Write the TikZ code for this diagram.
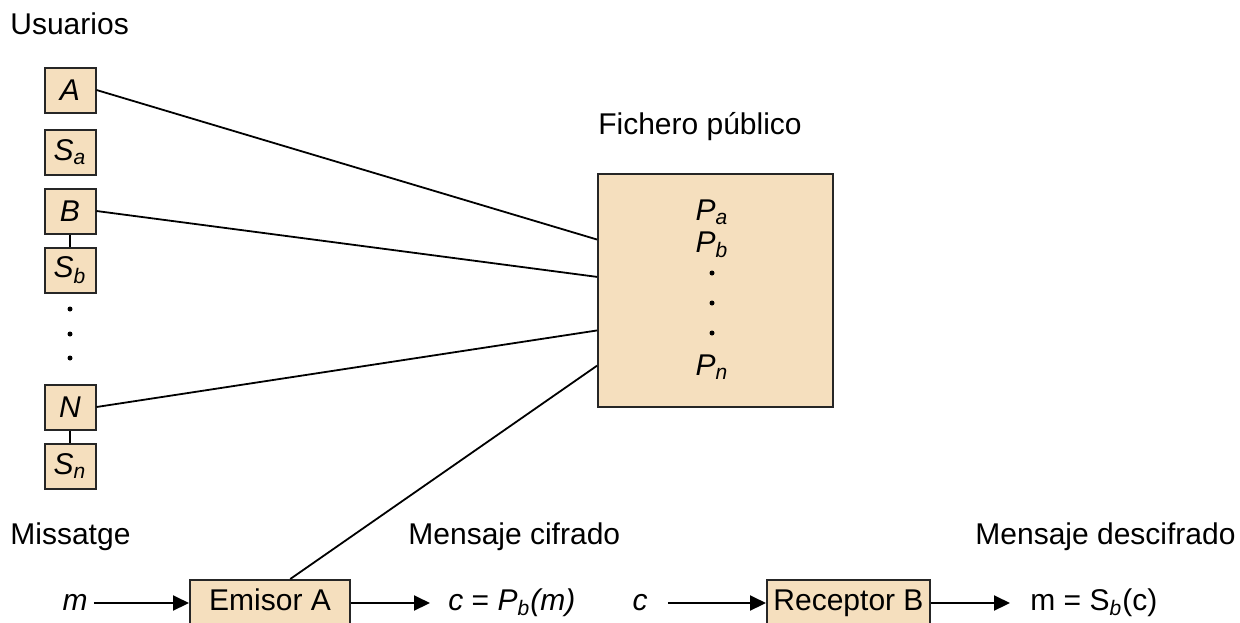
\documentclass[tikz,border=0pt]{standalone}
\usepackage{fontspec}
\setmainfont{Liberation Sans}
\usetikzlibrary{positioning,arrows.meta,calc}
\definecolor{caja}{RGB}{245,223,190}

\tikzset{
  usuario/.style={draw=black!85, fill=caja, line width=1pt, minimum width=25.5pt,
    minimum height=22.5pt, inner sep=0pt, font=\fontsize{15}{17}\selectfont\itshape},
  rotulo/.style={font=\fontsize{15}{18}\selectfont, inner sep=0pt},
  dato/.style={font=\fontsize{15}{18}\selectfont, inner sep=1pt, text height=10.5pt, text depth=3pt},
  bloque/.style={draw=black!85, fill=caja, line width=1pt, minimum height=23pt, inner sep=2pt,
    font=\fontsize{15}{18}\selectfont, text height=10.5pt, text depth=3pt},
  flecha/.style={line width=1pt, -{Triangle[length=8pt,width=7.5pt]}},
  enlace/.style={line width=0.9pt},
}

\begin{document}
\begin{tikzpicture}[x=0.5pt,y=-0.5pt]
\useasboundingbox (0,0) rectangle (1240,622);

% usuarios
\node[rotulo, anchor=west] (tusuarios) at (10,24) {Usuarios};
\node[usuario] (ua)  at (70,90)  {A};
\node[usuario] (usa) at (70,152) {S\textsubscript{a}};
\node[usuario] (ub)  at (70,211) {B};
\node[usuario] (usb) at (70,270) {S\textsubscript{b}};
\node[usuario] (un)  at (70,407) {N};
\node[usuario] (usn) at (70,466) {S\textsubscript{n}};
\draw[enlace] (ub.south) -- (usb.north);
\draw[enlace] (un.south) -- (usn.north);
\foreach \y in {309,334,358}
  \fill (70,\y) circle (2.5);

% fichero publico
\node[rotulo] (tfichero) at (700,127) {Fichero público};
\node[draw=black!85, fill=caja, line width=1pt, minimum width=117.5pt, minimum height=116.5pt]
  (fichero) at (715.5,290.5) {};
\node[rotulo, font=\fontsize{15}{18}\selectfont\itshape] (pa) at (712,212) {P\textsubscript{a}};
\node[rotulo, font=\fontsize{15}{18}\selectfont\itshape] (pb) at (712,245) {P\textsubscript{b}};
\foreach \y in {273,303,333}
  \fill (712,\y) circle (2.5);
\node[rotulo, font=\fontsize{15}{18}\selectfont\itshape] (pn) at (712,367) {P\textsubscript{n}};

\coordinate (fa) at ($(fichero.north west)!0.283!(fichero.south west)$);
\coordinate (fb) at ($(fichero.north west)!0.442!(fichero.south west)$);
\coordinate (fn) at ($(fichero.north west)!0.67!(fichero.south west)$);
\coordinate (fe) at ($(fichero.north west)!0.82!(fichero.south west)$);

% mensajes
\node[rotulo, anchor=west] (tmissatge) at (10,537) {Missatge};
\node[rotulo, anchor=west] (tcifrado) at (408,537) {Mensaje cifrado};
\node[rotulo, anchor=west] (tdescifrado) at (975,537) {Mensaje descifrado};

\node[dato] (m) at (75,603) {\itshape m};
\node[bloque, minimum width=80pt] (emisor) at (270,603) {Emisor A};
\node[dato, anchor=west] (cifr) at (446,603) {\itshape c \upshape= \itshape P\textsubscript{b}(m)};
\node[dato] (c) at (640,603) {\itshape c};
\node[bloque, minimum width=81.5pt] (receptor) at (848.5,603) {Receptor B};
\node[dato, anchor=west] (descif) at (1028,603) {m = S\textsubscript{\itshape b}(c)};

\coordinate (esal) at ($(emisor.north west)!0.625!(emisor.north east)$);

% lineas al fichero
\draw[enlace] (ua.east) -- (fa);
\draw[enlace] (ub.east) -- (fb);
\draw[enlace] (un.east) -- (fn);
\draw[enlace] (esal) -- (fe);

% flechas
\draw[flecha, shorten <=2pt] (m) -- (emisor);
\draw[flecha, shorten >=8pt] (emisor) -- (cifr);
\draw[flecha, shorten <=9pt] (c) -- (receptor);
\draw[flecha, shorten >=9pt] (receptor) -- (descif);
\end{tikzpicture}
\end{document}
